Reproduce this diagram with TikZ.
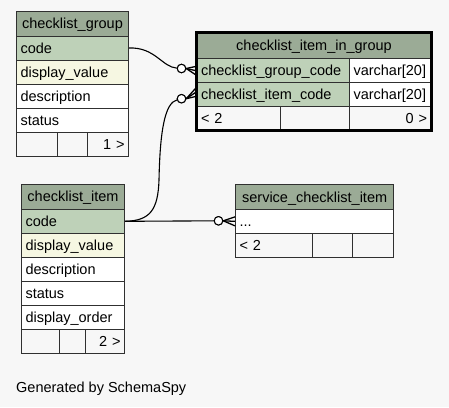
\documentclass[tikz,border=0pt]{standalone}
\usepackage{fontspec}
\setmainfont{Liberation Sans}
\usetikzlibrary{calc}
\definecolor{bg}{HTML}{F7F7F7}
\definecolor{hdr}{HTML}{9BAB96}
\definecolor{keyc}{HTML}{BED1B8}
\definecolor{idxc}{HTML}{F6F7E2}
\definecolor{lc}{HTML}{303030}
\begin{document}
\begin{tikzpicture}[x=1pt,y=-1pt,
  base/.style={draw=lc, line width=1pt, anchor=north west, inner xsep=4pt, inner ysep=0pt,
    text height=12pt, text depth=2pt, font=\fontsize{14.5}{17}\selectfont},
  hcell/.style={base, fill=hdr, align=center},
  lcell/.style={base, align=left},
  rcell/.style={base, align=right},
  conn/.style={draw=black, line width=1.1pt},
  crow/.style={draw=black, line width=1.3pt},
  odot/.style={circle, draw=black, fill=white, line width=1pt, minimum size=8.5pt, inner sep=0pt},
  thick border/.style={draw=black, line width=2.6pt}
]
\fill[bg] (0,0) rectangle (449,407);

% ---------- checklist_group ----------
\node[hcell, minimum height=24.5pt, text width=104pt] (cg) at (16,11) {checklist\_group};
\node[lcell, fill=keyc, minimum height=24pt, text width=104pt] (cg-code) at (16,35.5) {code};
\node[lcell, fill=idxc, minimum height=24pt, text width=104pt] (cg-dv) at (16,59.5) {display\_value};
\node[lcell, fill=white, minimum height=24pt, text width=104pt] (cg-desc) at (16,83.5) {description};
\node[lcell, fill=white, minimum height=24pt, text width=104pt] (cg-status) at (16,107.5) {status};
\node[lcell, minimum height=24pt, text width=33.3pt] (cg-f1) at (16,131.5) {};
\node[lcell, minimum height=24pt, text width=21.4pt] (cg-f2) at (57.3,131.5) {};
\node[rcell, minimum height=24pt, text width=33.3pt] (cg-f3) at (86.7,131.5) {1 >};

% ---------- checklist_item ----------
\node[hcell, minimum height=24.8pt, text width=95pt] (cli) at (21,184) {checklist\_item};
\node[lcell, fill=keyc, minimum height=24pt, text width=95pt] (cli-code) at (21,208.8) {code};
\node[lcell, fill=idxc, minimum height=24pt, text width=95pt] (cli-dv) at (21,232.8) {display\_value};
\node[lcell, fill=white, minimum height=24pt, text width=95pt] (cli-desc) at (21,256.8) {description};
\node[lcell, fill=white, minimum height=24pt, text width=95pt] (cli-status) at (21,280.8) {status};
\node[lcell, fill=white, minimum height=24pt, text width=95pt] (cli-do) at (21,304.8) {display\_order};
\node[lcell, minimum height=24pt, text width=29.7pt] (cli-f1) at (21,328.8) {};
\node[lcell, minimum height=24pt, text width=18.3pt] (cli-f2) at (58.7,328.8) {};
\node[rcell, minimum height=24pt, text width=31pt] (cli-f3) at (85,328.8) {2 >};

% ---------- service_checklist_item ----------
\node[hcell, minimum height=25pt, text width=150.3pt] (sci) at (235,184) {service\_checklist\_item};
\node[lcell, fill=white, minimum height=23.7pt, text width=150.3pt] (sci-r1) at (235,209) {...};
\node[lcell, minimum height=24.4pt, text width=68.7pt] (sci-f1) at (235,232.7) {< 2};
\node[lcell, minimum height=24.4pt, text width=32.3pt] (sci-f2) at (311.7,232.7) {};
\node[lcell, minimum height=24.4pt, text width=33.3pt] (sci-f3) at (352,232.7) {};

% ---------- checklist_item_in_group ----------
\node[hcell, minimum height=25.8pt, text width=226pt] (ciig) at (196.5,32.5) {checklist\_item\_in\_group};
\node[lcell, fill=keyc, minimum height=24pt, text width=144.5pt] (ciig-r1) at (196.5,58.3) {checklist\_group\_code};
\node[lcell, fill=white, minimum height=24pt, text width=73.5pt] (ciig-t1) at (349,58.3) {varchar[20]};
\node[lcell, fill=keyc, minimum height=24pt, text width=144.5pt] (ciig-r2) at (196.5,82.3) {checklist\_item\_code};
\node[lcell, fill=white, minimum height=24pt, text width=73.5pt] (ciig-t2) at (349,82.3) {varchar[20]};
\node[lcell, minimum height=23pt, text width=75.5pt] (ciig-f1) at (196.5,106.3) {< 2};
\node[lcell, minimum height=23pt, text width=61pt] (ciig-f2) at (280,106.3) {};
\node[rcell, minimum height=23pt, text width=73.5pt] (ciig-f3) at (349,106.3) {0 >};
\draw[thick border] (ciig.north west) rectangle (ciig-f3.south east);

% ---------- connectors ----------
\node[odot] (o1) at (181.5,68.5) {};
\node[odot] (o2) at (181.5,98.7) {};
\node[odot] (o3) at (218.5,220.8) {};

\draw[conn] (cg-code.east) .. controls (155,47) and (162,67) .. (o1);
\draw[conn] (cli-code.east) .. controls (150,220.8) and (158,210) .. (159,180)
            .. controls (160,130) and (165,103) .. (o2);
\draw[conn] (cli-code.east) -- (o3);

\draw[crow] ($(ciig-r1.west)+(0,-4.5)$) -- (o1.east) -- ($(ciig-r1.west)+(0,4.5)$);
\draw[crow] (o1.east) -- (ciig-r1.west);
\coordinate (e2) at ($(ciig-r2.west)+(0,-3)$);
\draw[crow] ($(e2)+(0,-4.5)$) -- (o2.east) -- ($(e2)+(0,4.5)$);
\draw[crow] (o2.east) -- (e2);
\draw[crow] ($(sci-r1.west)+(0,-4.5)$) -- (o3.east) -- ($(sci-r1.west)+(0,4.5)$);
\draw[crow] (o3.east) -- (sci-r1.west);

% redraw circles on top
\node[odot] at (o1) {};
\node[odot] at (o2) {};
\node[odot] at (o3) {};

\node[anchor=base west, inner sep=0pt, font=\fontsize{14.5}{17}\selectfont] (gen) at (16,392) {Generated by SchemaSpy};
\end{tikzpicture}
\end{document}
